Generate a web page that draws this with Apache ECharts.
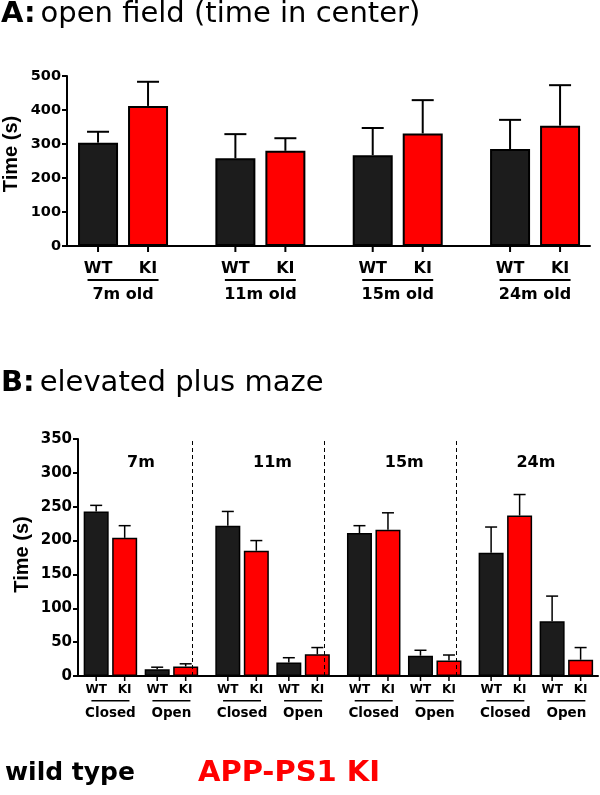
<!DOCTYPE html>
<html>
<head>
<meta charset="utf-8">
<script src="https://cdn.jsdelivr.net/npm/echarts@6/dist/echarts.min.js"></script>
<style>
html,body{margin:0;padding:0;background:#fff;}
#chart{width:600px;height:795px;}
</style>
</head>
<body>
<div id="chart"></div>
<script>
// ---------- data ----------
const titleA = ['A:', 'open field (time in center)'];
const titleB = ['B:', 'elevated plus maze'];
const legendNames = ['wild type', 'APP-PS1 KI'];
const genotypes = ['WT', 'KI'];

// Panel A: open field, time in center (s)
const agesA = ['7m old', '11m old', '15m old', '24m old'];
const wtA = [304, 258, 267, 285];
const wtA_sem = [32, 71, 80, 86];
const kiA = [412, 280, 331, 354];
const kiA_sem = [71, 37, 98, 119];
const yTicksA = [0, 100, 200, 300, 400, 500];

// Panel B: elevated plus maze (s)
const agesB = ['7m', '11m', '15m', '24m'];
const arms = ['Closed', 'Open'];
const closedWT = [243, 222, 211, 182];
const closedWT_sem = [9, 21, 11, 38];
const closedKI = [204, 185, 216, 237];
const closedKI_sem = [18, 15, 25, 31];
const openWT = [10, 20, 30, 81];
const openWT_sem = [3, 7, 8, 37];
const openKI = [14, 32, 23, 24];
const openKI_sem = [4, 10, 8, 18];
const yTicksB = [0, 50, 100, 150, 200, 250, 300, 350];

// ---------- style / layout constants ----------
const FONT = "'DejaVu Sans', sans-serif";
const FONT_Y = "'Liberation Sans', Arial, sans-serif";
const WT_FILL = '#1c1c1c';
const KI_FILL = '#ff0000';
const BAR_A = 40, GAP_A = 10;
const OFF_A = (BAR_A + GAP_A) / 2;
const BAR_B = 25, GAP_B = 3.5;
const OFF_B = (BAR_B + GAP_B) / 2;
const PAIR_B = 0.2317; // closed/open pair offset inside an age group (axis units)

const armX = (g, a) => g + (a === 0 ? -PAIR_B : PAIR_B);

// ---------- helpers ----------
function line(x1, y1, x2, y2, w) {
  return { type: 'line', shape: { x1, y1, x2, y2 }, style: { stroke: '#000', lineWidth: w } };
}
function text(t, x, y, size, color) {
  return { type: 'text', style: { text: t, x, y, fill: color || '#000', fontFamily: FONT, fontWeight: 'bold', fontSize: size, align: 'center', verticalAlign: 'middle' } };
}
function errSeries(grid, data, offset, capW, lw) {
  return {
    type: 'custom', xAxisIndex: grid, yAxisIndex: grid, silent: true, z: 1,
    data: data,
    renderItem: function (params, api) {
      const b = api.coord([api.value(0), api.value(1)]);
      const t = api.coord([api.value(0), api.value(2)]);
      const x = b[0] + offset;
      return { type: 'group', children: [
        line(x, b[1], x, t[1], lw),
        line(x - capW / 2, t[1], x + capW / 2, t[1], lw)
      ] };
    }
  };
}

// Panel A data
const barA_WT = wtA.map((v, g) => [g, v]);
const barA_KI = kiA.map((v, g) => [g, v]);
const errA_WT = wtA.map((v, g) => [g, v, v + wtA_sem[g]]);
const errA_KI = kiA.map((v, g) => [g, v, v + kiA_sem[g]]);

// Panel B data
const barB_WT = [], barB_KI = [], errB_WT = [], errB_KI = [];
agesB.forEach((_, g) => {
  barB_WT.push([armX(g, 0), closedWT[g]], [armX(g, 1), openWT[g]]);
  barB_KI.push([armX(g, 0), closedKI[g]], [armX(g, 1), openKI[g]]);
  errB_WT.push([armX(g, 0), closedWT[g], closedWT[g] + closedWT_sem[g]], [armX(g, 1), openWT[g], openWT[g] + openWT_sem[g]]);
  errB_KI.push([armX(g, 0), closedKI[g], closedKI[g] + closedKI_sem[g]], [armX(g, 1), openKI[g], openKI[g] + openKI_sem[g]]);
});

const yAxisCommon = {
  type: 'value', min: 0, splitLine: { show: false },
  axisLine: { show: true, onZero: false, lineStyle: { color: '#000', width: 2 } },
  axisTick: { show: true, length: 5, lineStyle: { color: '#000', width: 2 } },
  name: 'Time (s)', nameLocation: 'middle', nameGap: 46, nameMoveOverlap: false,
  nameTextStyle: { fontFamily: FONT_Y, fontWeight: 'bold', fontSize: 20, color: '#000' }
};
const xAxisCommon = {
  type: 'value', splitLine: { show: false },
  axisLine: { show: true, onZero: false, lineStyle: { color: '#000', width: 2 } },
  axisTick: { show: false }, axisLabel: { show: false }
};

const chart = echarts.init(document.getElementById('chart'), null, { renderer: 'canvas' });
chart.setOption({
  animation: false,
  backgroundColor: '#fff',
  title: [
    { text: '{b|' + titleA[0] + '} {n|' + titleA[1] + '}', left: 1, top: 0, padding: 0,
      textStyle: { rich: {
        b: { fontFamily: FONT, fontWeight: 'bold', fontSize: 29, color: '#000' },
        n: { fontFamily: FONT, fontWeight: 'normal', fontSize: 29, color: '#000' } } } },
    { text: '{b|' + titleB[0] + '} {n|' + titleB[1] + '}', left: 1, top: 369, padding: 0,
      textStyle: { rich: {
        b: { fontFamily: FONT, fontWeight: 'bold', fontSize: 29, color: '#000' },
        n: { fontFamily: FONT, fontWeight: 'normal', fontSize: 29, color: '#000' } } } }
  ],
  legend: {
    left: 0, top: 759, padding: 0, icon: 'none', itemWidth: 0, itemHeight: 0, itemGap: 58,
    selectedMode: false,
    textStyle: { fontFamily: FONT, fontWeight: 'bold', fontSize: 26 },
    data: [
      { name: legendNames[0], textStyle: { color: '#000', fontSize: 25 } },
      { name: legendNames[1], textStyle: { color: KI_FILL, fontSize: 29 } }
    ]
  },
  grid: [
    { left: 67, width: 523, top: 76, height: 170, containLabel: false, outerBoundsMode: 'none' },
    { left: 78, right: 2, top: 439, height: 237, containLabel: false, outerBoundsMode: 'none' }
  ],
  xAxis: [
    Object.assign({}, xAxisCommon, { gridIndex: 0, min: -0.408, max: 3.4 }),
    Object.assign({}, xAxisCommon, { gridIndex: 1, min: -0.478, max: 3.472 })
  ],
  yAxis: [
    Object.assign({}, yAxisCommon, { gridIndex: 0, max: yTicksA[yTicksA.length - 1], interval: yTicksA[1] - yTicksA[0],
      nameTextStyle: Object.assign({}, yAxisCommon.nameTextStyle, { padding: [0, 0, 0, 14] }),
      axisLabel: { margin: 6, color: '#000', fontFamily: FONT, fontWeight: 'bold', fontSize: 14.5 } }),
    Object.assign({}, yAxisCommon, { gridIndex: 1, max: yTicksB[yTicksB.length - 1], interval: yTicksB[1] - yTicksB[0],
      nameTextStyle: Object.assign({}, yAxisCommon.nameTextStyle, { padding: [0, 0, 0, 6] }),
      axisLabel: { margin: 6, color: '#000', fontFamily: FONT, fontWeight: 'bold', fontSize: 15 } })
  ],
  series: [
    // ----- Panel A bars -----
    { name: legendNames[0], type: 'bar', xAxisIndex: 0, yAxisIndex: 0, data: barA_WT,
      barWidth: BAR_A, barGap: (GAP_A / BAR_A * 100) + '%', z: 2,
      itemStyle: { color: WT_FILL, borderColor: '#000', borderWidth: 2 } },
    { name: legendNames[1], type: 'bar', xAxisIndex: 0, yAxisIndex: 0, data: barA_KI,
      barWidth: BAR_A, barGap: (GAP_A / BAR_A * 100) + '%', z: 2,
      itemStyle: { color: KI_FILL, borderColor: '#000', borderWidth: 2 } },
    errSeries(0, errA_WT, -OFF_A, 22, 2),
    errSeries(0, errA_KI, OFF_A, 22, 2),
    // Panel A x labels
    { type: 'custom', xAxisIndex: 0, yAxisIndex: 0, silent: true, clip: false,
      data: agesA.map((a, g) => [g, 0]),
      renderItem: function (params, api) {
        const p = api.coord([api.value(0), 0]);
        const g = params.dataIndex;
        const ch = [];
        [-OFF_A, OFF_A].forEach((dx, i) => {
          ch.push(line(p[0] + dx, p[1], p[0] + dx, p[1] + 6, 2));
          ch.push(text(genotypes[i], p[0] + dx, p[1] + 23, 16));
        });
        ch.push(line(p[0] - 35.5, p[1] + 34, p[0] + 35.5, p[1] + 34, 2));
        ch.push(text(agesA[g], p[0], p[1] + 49, 16));
        return { type: 'group', children: ch };
      } },

    // ----- Panel B bars -----
    { name: legendNames[0], type: 'bar', xAxisIndex: 1, yAxisIndex: 1, data: barB_WT,
      barWidth: BAR_B, barGap: (GAP_B / BAR_B * 100) + '%', z: 2,
      itemStyle: { color: WT_FILL, borderColor: '#000', borderWidth: 1.5 },
      markLine: { silent: true, symbol: 'none', label: { show: false },
        lineStyle: { color: '#000', width: 1, type: [4, 3] },
        data: agesB.slice(1).map((_, i) => ({ xAxis: i + 0.5 })) } },
    { name: legendNames[1], type: 'bar', xAxisIndex: 1, yAxisIndex: 1, data: barB_KI,
      barWidth: BAR_B, barGap: (GAP_B / BAR_B * 100) + '%', z: 2,
      itemStyle: { color: KI_FILL, borderColor: '#000', borderWidth: 1.5 } },
    errSeries(1, errB_WT, -OFF_B, 12, 1.5),
    errSeries(1, errB_KI, OFF_B, 12, 1.5),
    // Panel B labels
    { type: 'custom', xAxisIndex: 1, yAxisIndex: 1, silent: true, clip: false,
      data: agesB.map((a, g) => [g, 0]),
      renderItem: function (params, api) {
        const g = params.dataIndex;
        const ch = [];
        const top = api.coord([g, yTicksB[yTicksB.length - 1]]);
        ch.push(text(agesB[g], top[0], top[1] + 23.5, 16));
        arms.forEach((arm, a) => {
          const p = api.coord([armX(g, a), 0]);
          [-OFF_B, OFF_B].forEach((dx, i) => {
            ch.push(line(p[0] + dx, p[1], p[0] + dx, p[1] + 5, 1.5));
            ch.push(text(genotypes[i], p[0] + dx, p[1] + 14, 12));
          });
          ch.push(line(p[0] - 19, p[1] + 24.7, p[0] + 19, p[1] + 24.7, 1.5));
          ch.push(text(arm, p[0], p[1] + 37.5, 13.5));
        });
        return { type: 'group', children: ch };
      } }
  ]
});
</script>
</body>
</html>
